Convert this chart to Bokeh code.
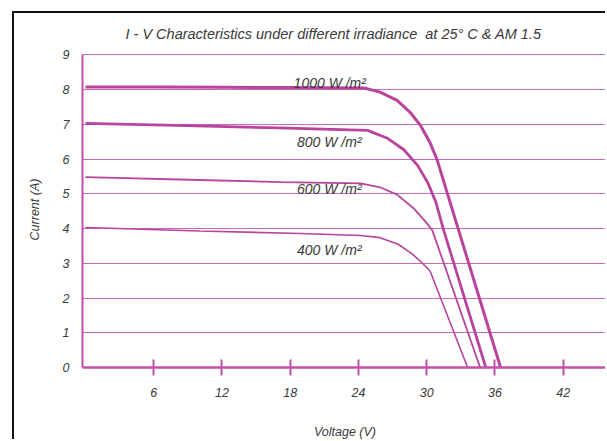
from bokeh.plotting import figure
from bokeh.models import Range1d, FixedTicker, ColumnDataSource
from bokeh.core.properties import value
from bokeh.embed import file_html
from bokeh.resources import INLINE

# ---- data ----
v_1000 = [0, 6, 12, 18, 24.5, 25.9, 27.4, 28.6, 29.5, 30.3, 30.9, 36.5]
i_1000 = [8.08, 8.08, 8.07, 8.06, 8.05, 7.93, 7.69, 7.33, 6.95, 6.47, 6.0, 0]

v_800 = [0, 8, 17, 24.8, 26.5, 28.0, 29.2, 30.1, 30.8, 31.5, 35.2]
i_800 = [7.03, 6.97, 6.9, 6.83, 6.61, 6.27, 5.82, 5.32, 4.77, 3.95, 0]

v_600 = [0, 10, 17.2, 24.2, 25.9, 27.4, 28.9, 29.9, 30.5, 34.7]
i_600 = [5.48, 5.4, 5.34, 5.3, 5.19, 4.98, 4.57, 4.2, 3.95, 0]

v_400 = [0, 10, 18.9, 24.2, 25.9, 27.5, 28.8, 29.7, 30.3, 33.6]
i_400 = [4.03, 3.93, 3.86, 3.8, 3.74, 3.55, 3.25, 2.98, 2.78, 0]

curve_labels = ["1000 W /m\u00b2", "800 W /m\u00b2", "600 W /m\u00b2", "400 W /m\u00b2"]
label_v = [18.3, 18.6, 18.6, 18.6]
label_i = [8.2, 6.5, 5.15, 3.38]

x_ticks = [6, 12, 18, 24, 30, 36, 42, 48]
y_ticks = [0, 1, 2, 3, 4, 5, 6, 7, 8, 9]
grid_ticks = [1, 2, 3, 4, 5, 6, 7, 8, 9]

title_text = "I - V Characteristics under different irradiance \u00a0at 25\u00b0 C & AM 1.5"

# ---- styling ----
CURVE = "#b8449e"
GRID = "#c96ab8"
AXIS = "#c24fa8"
TXT = "#3a3a3a"
FONT = "Liberation Sans"

p = figure(width=593, height=428, output_backend="svg", toolbar_location=None,
           x_range=Range1d(-0.26, 45.9), y_range=Range1d(0, 9.1),
           min_border_left=68, min_border_right=0, min_border_top=38,
           min_border_bottom=71, title=title_text)
# black page frame around the chart (open at right and bottom, as in the scan)
p.margin = (11, 0, 0, 12)
p.styles = {"border-left": "2px solid #111", "border-top": "2px solid #111"}
p.outline_line_color = None
p.background_fill_color = "white"
p.border_fill_color = "white"

p.title.text_font = FONT
p.title.text_font_style = "italic"
p.title.text_font_size = "14.5px"
p.title.text_color = TXT
p.title.align = "left"
p.title.offset = 43
p.title.standoff = 19

# grids
p.xgrid.visible = False
p.ygrid.ticker = FixedTicker(ticks=grid_ticks)
p.ygrid.grid_line_color = GRID
p.ygrid.grid_line_width = 1.2

# y axis
ya = p.yaxis[0]
ya.ticker = FixedTicker(ticks=y_ticks)
ya.bounds = (0, 9)
ya.axis_line_color = AXIS
ya.axis_line_width = 2
ya.major_tick_line_color = None
ya.minor_tick_line_color = None
ya.major_label_standoff = 7
ya.major_label_text_font = FONT
ya.major_label_text_font_style = "italic"
ya.major_label_text_font_size = "12.5px"
ya.major_label_text_color = TXT
ya.axis_label = "Current (A)"
ya.axis_label_text_font = FONT
ya.axis_label_text_font_style = "italic"
ya.axis_label_text_font_size = "12.5px"
ya.axis_label_text_color = TXT
ya.axis_label_standoff = 18

# x axis
xa = p.xaxis[0]
xa.ticker = FixedTicker(ticks=x_ticks)
xa.axis_line_color = AXIS
xa.axis_line_width = 2.5
xa.major_tick_line_color = AXIS
xa.major_tick_line_width = 2
xa.major_tick_in = 8
xa.major_tick_out = 8
xa.minor_tick_line_color = None
xa.major_label_standoff = 12
xa.major_label_text_font = FONT
xa.major_label_text_font_style = "italic"
xa.major_label_text_font_size = "12.5px"
xa.major_label_text_color = TXT
xa.axis_label = "Voltage (V)"
xa.axis_label_text_font = FONT
xa.axis_label_text_font_style = "italic"
xa.axis_label_text_font_size = "12.5px"
xa.axis_label_text_color = TXT
xa.axis_label_standoff = 25

# curves
p.line(v_1000, i_1000, line_color=CURVE, line_width=3)
p.line(v_800, i_800, line_color=CURVE, line_width=2.8)
p.line(v_600, i_600, line_color=CURVE, line_width=1.8)
p.line(v_400, i_400, line_color=CURVE, line_width=1.6)

src = ColumnDataSource(dict(x=label_v, y=label_i, t=curve_labels))
p.text(x="x", y="y", text="t", source=src, text_font=value(FONT),
       text_font_style="italic", text_font_size="14px", text_color=TXT,
       text_align="left", text_baseline="alphabetic")

open("out.html", "w").write(file_html(p, INLINE))
